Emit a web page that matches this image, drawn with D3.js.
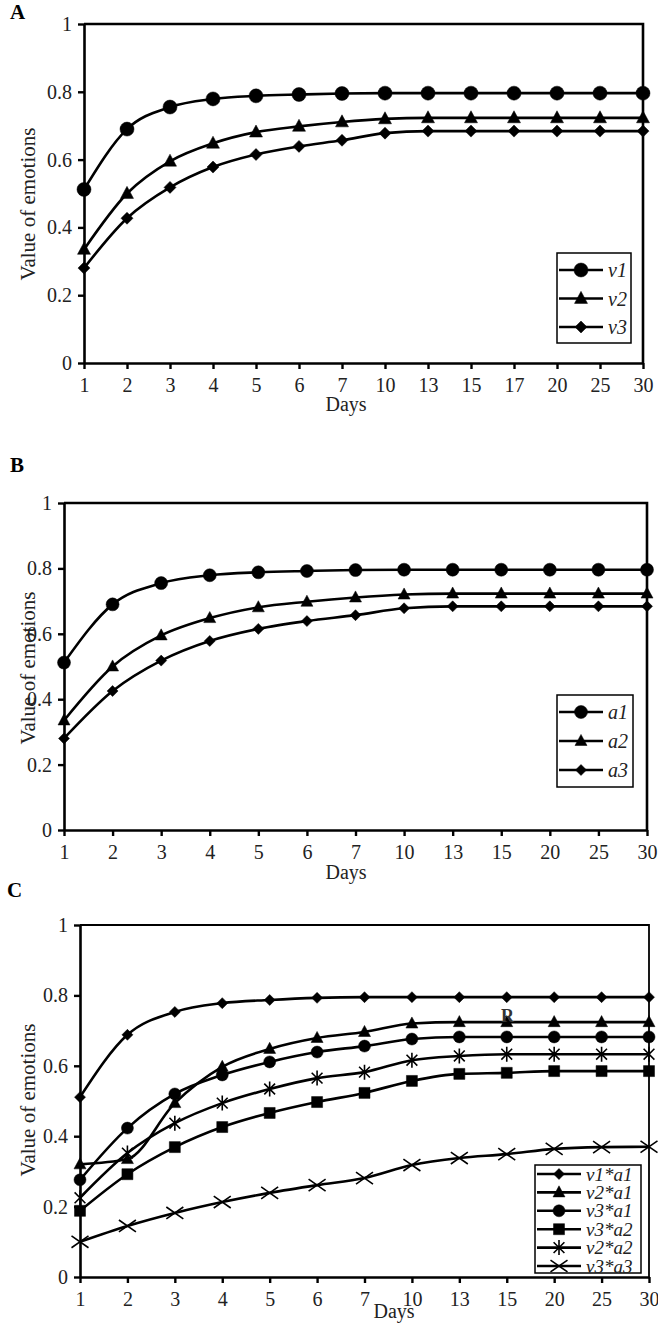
<!DOCTYPE html>
<html>
<head>
<meta charset="utf-8">
<title>Value of emotions</title>
<script src="https://d3js.org/d3.v7.min.js"></script>
<style>
  body { margin: 0; background: #fff; }
  svg { display: block; font-family: "Liberation Serif", "Times New Roman", serif; }
</style>
</head>
<body>
<svg id="chart" width="658" height="1325"></svg>
<script>
// x categories (days) and y ticks
var daysA = ["1", "2", "3", "4", "5", "6", "7", "10", "13", "15", "17", "20", "25", "30"];
var daysB = ["1", "2", "3", "4", "5", "6", "7", "10", "13", "15", "20", "25", "30"];
var daysC = ["1", "2", "3", "4", "5", "6", "7", "10", "13", "15", "20", "25", "30"];
var yTicks = [0, 0.2, 0.4, 0.6, 0.8, 1];

// panel A
var v1 = [0.512, 0.69, 0.755, 0.779, 0.788, 0.792, 0.795, 0.796, 0.796, 0.796, 0.796, 0.796, 0.796, 0.796];
var v2 = [0.335, 0.50, 0.595, 0.648, 0.681, 0.698, 0.711, 0.72, 0.723, 0.723, 0.723, 0.723, 0.723, 0.723];
var v3 = [0.28, 0.427, 0.518, 0.578, 0.615, 0.639, 0.657, 0.678, 0.684, 0.684, 0.684, 0.684, 0.684, 0.684];

// panel B
var a1 = [0.512, 0.69, 0.755, 0.779, 0.788, 0.792, 0.795, 0.796, 0.796, 0.796, 0.796, 0.796, 0.796];
var a2 = [0.335, 0.50, 0.595, 0.648, 0.681, 0.698, 0.711, 0.72, 0.723, 0.723, 0.723, 0.723, 0.723];
var a3 = [0.28, 0.425, 0.518, 0.578, 0.615, 0.639, 0.657, 0.678, 0.684, 0.684, 0.684, 0.684, 0.684];

// panel C
var v1a1 = [0.511, 0.688, 0.753, 0.778, 0.787, 0.793, 0.795, 0.795, 0.795, 0.795, 0.795, 0.795, 0.795];
var v2a1 = [0.32, 0.335, 0.494, 0.597, 0.648, 0.679, 0.696, 0.72, 0.724, 0.724, 0.724, 0.724, 0.724];
var v3a1 = [0.276, 0.423, 0.52, 0.574, 0.611, 0.639, 0.656, 0.676, 0.682, 0.682, 0.682, 0.682, 0.682];
var v3a2 = [0.188, 0.292, 0.369, 0.426, 0.466, 0.497, 0.523, 0.557, 0.577, 0.58, 0.585, 0.585, 0.585];
var v2a2 = [0.225, 0.352, 0.437, 0.494, 0.534, 0.565, 0.582, 0.616, 0.628, 0.633, 0.633, 0.633, 0.633];
var v3a3 = [0.1, 0.145, 0.182, 0.213, 0.239, 0.261, 0.281, 0.318, 0.338, 0.349, 0.364, 0.369, 0.37];

var svg = d3.select("#chart");
svg.append("rect").attr("width", 658).attr("height", 1325).attr("fill", "#fff");

// marker outline around 0,0
function shape(type, s) {
  var r = s / 2;
  if (type == "circle") return d3.symbol().type(d3.symbolCircle).size(Math.PI * r * r)();
  if (type == "triangle") return "M0," + (-r * 1.1) + "L" + r + "," + (r * 0.75) + "L" + (-r) + "," + (r * 0.75) + "Z";
  if (type == "diamond") return "M0," + (-r) + "L" + r + ",0L0," + r + "L" + (-r) + ",0Z";
  if (type == "square") return "M" + (-r) + "," + (-r) + "h" + s + "v" + s + "h" + (-s) + "Z";
  if (type == "asterisk") {
    var k = r * 0.72;
    return "M0," + (-r) + "V" + r + "M" + (-k) + "," + (-k) + "L" + k + "," + k + "M" + (-k) + "," + k + "L" + k + "," + (-k);
  }
  if (type == "times") return "M" + (-r) + "," + (-r * 0.7) + "L" + r + "," + (r * 0.7) + "M" + (-r) + "," + (r * 0.7) + "L" + r + "," + (-r * 0.7);
}
function drawMarker(g, type, s, px, py) {
  var open = (type == "asterisk" || type == "times");
  g.append("path")
    .attr("d", shape(type, s))
    .attr("transform", "translate(" + px + "," + py + ")")
    .attr("fill", open ? "none" : "#000")
    .attr("stroke", "#000")
    .attr("stroke-width", open ? 1.6 : 0.5);
}

function panel(o) {
  var g = svg.append("g");
  var x = d3.scalePoint().domain(o.days).range([o.left, o.right]);
  var y = d3.scaleLinear().domain([0, 1]).range([o.bottom, o.top]);

  // letter
  g.append("text").attr("x", o.letterX).attr("y", o.letterY)
    .attr("font-size", 21).attr("font-weight", "bold").text(o.letter);

  // plot area border (top and right)
  g.append("path")
    .attr("d", "M" + o.left + "," + y(1) + "H" + o.right + "V" + y(0))
    .attr("fill", "none").attr("stroke", "#000").attr("stroke-width", o.frameW);

  var ya = g.append("g").attr("transform", "translate(" + o.left + ",0)")
    .call(d3.axisLeft(y).tickValues(yTicks).tickFormat(d3.format("~g"))
      .tickSize(6).tickSizeOuter(0).tickPadding(6));
  var xa = g.append("g").attr("transform", "translate(0," + o.bottom + ")")
    .call(d3.axisBottom(x).tickSize(6).tickSizeOuter(0).tickPadding(9));
  [ya, xa].forEach(function (a) {
    a.attr("font-family", null).attr("font-size", 20);
    a.select(".domain").attr("stroke-width", 2.6);
    a.selectAll(".tick line").attr("stroke-width", 2.4);
    a.selectAll(".tick text").attr("fill", "#222");
  });

  // axis titles
  g.append("text").attr("x", o.daysX).attr("y", o.daysY)
    .attr("text-anchor", "middle").attr("font-size", 20).attr("fill", "#222").text("Days");
  g.append("text")
    .attr("transform", "translate(" + o.ylabX + "," + o.ylabY + ") rotate(-90)")
    .attr("text-anchor", "middle").attr("font-size", 21).attr("fill", "#222").text("Value of emotions");

  // series
  var line = d3.line()
    .x(function (d, i) { return x(o.days[i]); })
    .y(function (d) { return y(d); })
    .curve(d3.curveMonotoneX);
  o.series.forEach(function (s) {
    g.append("path").attr("d", line(s.values))
      .attr("fill", "none").attr("stroke", "#000").attr("stroke-width", 2.6);
    s.values.forEach(function (d, i) {
      drawMarker(g, s.shape, s.size, x(o.days[i]), y(d));
    });
  });

  // legend
  var L = o.legend;
  g.append("rect").attr("x", L.x).attr("y", L.y).attr("width", L.w).attr("height", L.h)
    .attr("fill", "#fff").attr("stroke", "#000").attr("stroke-width", 1.5);
  o.series.forEach(function (s, i) {
    var ly = L.first + i * L.step;
    g.append("line").attr("x1", L.x + 2).attr("x2", L.x + 2 + L.lineW)
      .attr("y1", ly).attr("y2", ly).attr("stroke", "#000").attr("stroke-width", 2.6);
    drawMarker(g, s.shape, s.size, L.x + 2 + L.lineW / 2, ly);
    g.append("text").attr("x", L.x + L.lineW + 7).attr("y", ly).attr("dy", "0.35em")
      .attr("font-size", L.font).attr("font-style", "italic").attr("fill", "#222").text(s.name);
  });
  return g;
}

panel({
  letter: "A", letterX: 10, letterY: 19,
  days: daysA, left: 84, right: 643, top: 24, bottom: 363, frameW: 2.6,
  daysX: 346, daysY: 411, ylabX: 35, ylabY: 204,
  series: [
    { name: "v1", values: v1, shape: "circle", size: 14 },
    { name: "v2", values: v2, shape: "triangle", size: 13 },
    { name: "v3", values: v3, shape: "diamond", size: 12 }
  ],
  legend: { x: 557, y: 253, w: 74, h: 90, first: 270, step: 28.5, lineW: 44, font: 20 }
});

panel({
  letter: "B", letterX: 10, letterY: 472,
  days: daysB, left: 64, right: 647, top: 503, bottom: 830, frameW: 2.6,
  daysX: 346, daysY: 879, ylabX: 35, ylabY: 668,
  series: [
    { name: "a1", values: a1, shape: "circle", size: 13 },
    { name: "a2", values: a2, shape: "triangle", size: 12 },
    { name: "a3", values: a3, shape: "diamond", size: 11 }
  ],
  legend: { x: 557, y: 695, w: 76, h: 92, first: 712, step: 29, lineW: 44, font: 20 }
});

var gC = panel({
  letter: "C", letterX: 7, letterY: 897,
  days: daysC, left: 80, right: 649, top: 925, bottom: 1277, frameW: 1.8,
  daysX: 394, daysY: 1318, ylabX: 35, ylabY: 1100,
  series: [
    { name: "v1*a1", values: v1a1, shape: "diamond", size: 11 },
    { name: "v2*a1", values: v2a1, shape: "triangle", size: 12 },
    { name: "v3*a1", values: v3a1, shape: "circle", size: 12 },
    { name: "v3*a2", values: v3a2, shape: "square", size: 11 },
    { name: "v2*a2", values: v2a2, shape: "asterisk", size: 15 },
    { name: "v3*a3", values: v3a3, shape: "times", size: 17 }
  ],
  legend: { x: 535, y: 1165, w: 106, h: 108, first: 1174, step: 18.4, lineW: 44, font: 19 }
});

// stray letter that sits over the v2*a1 line in the original figure
gC.append("text").attr("x", 501).attr("y", 1022)
  .attr("font-size", 18).attr("font-weight", "bold").attr("fill", "#333").text("R");
</script>
</body>
</html>
